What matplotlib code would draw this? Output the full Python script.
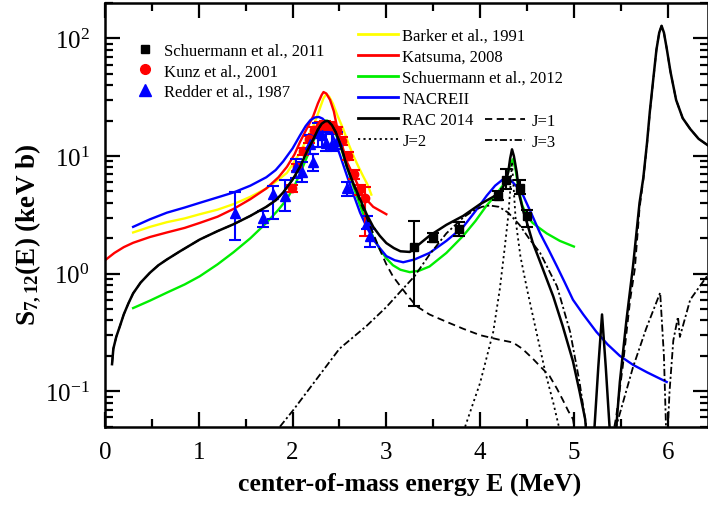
import numpy as np
import matplotlib
matplotlib.use('Agg')
import matplotlib.pyplot as plt
from matplotlib.lines import Line2D
from matplotlib.ticker import LogLocator, MultipleLocator, NullFormatter

plt.rcParams['font.family'] = 'Liberation Serif'
plt.rcParams['mathtext.fontset'] = 'custom'
plt.rcParams['mathtext.rm'] = 'Liberation Serif'
plt.rcParams['mathtext.it'] = 'Liberation Serif:italic'
plt.rcParams['mathtext.bf'] = 'Liberation Serif:bold'

# ---- model curves (E in MeV, S in keV b) ----
barker_E = [0.30, 0.48, 0.66, 0.85, 1.01, 1.20, 1.37, 1.55, 1.72, 1.85, 1.94, 2.02, 2.08, 2.15, 2.22,
            2.28, 2.33, 2.36, 2.39, 2.43, 2.48, 2.54, 2.60, 2.65, 2.70, 2.75, 2.80, 2.84]
barker_S = [2.24, 2.5, 2.74, 2.95, 3.2, 3.5, 3.9, 4.5, 5.3, 6.3, 7.2, 9.0, 10.7, 14.0, 17.9,
            24.0, 31.0, 33.6, 32.0, 28.0, 22.0, 17.0, 12.5, 10.0, 8.2, 6.8, 5.7, 4.7]

katsuma_E = [0.0, 0.10, 0.20, 0.30, 0.48, 0.66, 0.85, 1.01, 1.20, 1.37, 1.55, 1.72, 1.85, 1.94, 2.02,
             2.08, 2.15, 2.22, 2.27, 2.31, 2.33, 2.36, 2.40, 2.44, 2.47, 2.52, 2.58, 2.65, 2.75, 2.86, 3.0]
katsuma_S = [1.3, 1.5, 1.68, 1.83, 2.05, 2.24, 2.45, 2.7, 3.05, 3.55, 4.3, 5.3, 6.6, 8.1, 10.3,
             13.2, 17.0, 21.8, 28.0, 33.0, 35.0, 34.0, 30.0, 24.0, 18.3, 13.0, 8.9, 6.8, 4.6, 3.7, 3.2]

sch12_E = [0.30, 0.48, 0.66, 0.85, 1.01, 1.20, 1.37, 1.55, 1.72, 1.85, 1.94, 2.03, 2.11, 2.19, 2.26,
           2.30, 2.34, 2.37, 2.40, 2.45, 2.50, 2.57, 2.65, 2.72, 2.79, 2.86, 2.93, 3.00, 3.07, 3.15,
           3.25, 3.35, 3.46, 3.64, 3.82, 3.95, 4.07, 4.16, 4.24, 4.28, 4.31, 4.35, 4.38, 4.41, 4.45,
           4.50, 4.56, 4.63, 4.71, 4.85, 5.0]
sch12_S = [0.51, 0.59, 0.69, 0.81, 0.95, 1.2, 1.52, 2.0, 2.7, 3.5, 4.3, 5.8, 8.1, 11.5, 15.9,
           18.5, 20.0, 20.0, 18.8, 16.0, 13.0, 8.5, 5.5, 3.8, 2.7, 2.05, 1.62, 1.35, 1.18, 1.08,
           1.03, 1.06, 1.15, 1.5, 2.1, 2.8, 3.8, 4.6, 5.6, 6.5, 8.0, 9.4, 7.5, 5.2, 3.8,
           3.1, 2.7, 2.45, 2.2, 1.9, 1.7]

nacre_E = [0.30, 0.48, 0.66, 0.85, 1.01, 1.20, 1.37, 1.55, 1.72, 1.82, 1.90, 2.00, 2.08, 2.14, 2.19,
           2.24, 2.28, 2.32, 2.36, 2.40, 2.43, 2.50, 2.58, 2.65, 2.72, 2.79, 2.86, 2.93, 3.00, 3.09,
           3.18, 3.30, 3.46, 3.64, 3.82, 3.95, 4.07, 4.16, 4.24, 4.28, 4.33, 4.40, 4.46, 4.55, 4.64,
           4.73, 4.82, 4.90, 4.99, 5.10, 5.24, 5.36, 5.49, 5.63, 5.78, 5.99]
nacre_S = [2.5, 2.9, 3.3, 3.65, 4.0, 4.45, 4.9, 5.6, 6.6, 7.6, 9.0, 11.6, 15.0, 18.0, 20.2,
           21.3, 21.5, 20.8, 19.2, 16.8, 14.8, 10.5, 6.8, 4.7, 3.3, 2.5, 1.96, 1.65, 1.41, 1.3,
           1.25, 1.32, 1.5, 1.9, 2.5, 3.4, 4.6, 5.6, 6.3, 6.4, 6.2, 5.4, 4.6, 3.2, 2.2,
           1.6, 1.15, 0.85, 0.60, 0.45, 0.32, 0.25, 0.20, 0.168, 0.145, 0.12]

rac_E = [0.075, 0.089, 0.12, 0.16, 0.20, 0.25, 0.30, 0.38, 0.48, 0.57, 0.66, 0.80, 1.01, 1.20, 1.37,
         1.55, 1.72, 1.82, 1.90, 2.00, 2.08, 2.15, 2.22, 2.27, 2.31, 2.35, 2.38, 2.42, 2.46, 2.50,
         2.54, 2.58, 2.65, 2.72, 2.79, 2.86, 2.93, 3.00, 3.08, 3.15, 3.25, 3.35, 3.46, 3.64, 3.82,
         4.00, 4.14, 4.22, 4.27, 4.30, 4.32, 4.34, 4.36, 4.39, 4.42, 4.46, 4.50, 4.56, 4.67, 4.78,
         4.88, 4.99, 5.06, 5.12, 5.17, 5.22, 5.26, 5.30, 5.34, 5.38, 5.42, 5.46, 5.49, 5.56, 5.63,
         5.70, 5.74, 5.78, 5.81, 5.85, 5.88, 5.91, 5.935, 5.96, 5.99, 6.03, 6.09, 6.16, 6.24, 6.33, 6.45]
rac_S = [0.17, 0.23, 0.29, 0.36, 0.45, 0.56, 0.68, 0.84, 1.02, 1.18, 1.32, 1.55, 1.95, 2.3, 2.63,
         3.1, 3.7, 4.2, 4.9, 6.3, 8.1, 10.8, 13.8, 16.8, 18.8, 19.8, 19.8, 18.3, 16.0, 13.2,
         10.5, 8.1, 5.8, 4.3, 3.2, 2.5, 2.1, 1.82, 1.65, 1.55, 1.53, 1.78, 2.1, 2.6, 3.1,
         3.9, 4.5, 5.0, 6.0, 7.3, 9.5, 11.4, 10.0, 7.3, 4.6, 3.4, 2.7, 1.85, 1.09, 0.64,
         0.36, 0.18, 0.10, 0.058, 0.02, 0.05, 0.16, 0.45, 0.16, 0.05, 0.02, 0.06, 0.12, 0.4, 1.15,
         4.0, 6.5, 13.0, 24.0, 48.0, 80.0, 112.0, 128.0, 112.0, 82.0, 52.0, 30.0, 21.0, 17.0, 14.0, 12.0]

j1_E = [0.075, 0.089, 0.12, 0.16, 0.20, 0.25, 0.30, 0.38, 0.48, 0.57, 0.66, 0.80, 1.01, 1.20, 1.37,
        1.55, 1.72, 1.82, 1.90, 2.00, 2.08, 2.15, 2.22, 2.27, 2.31, 2.35, 2.38, 2.42, 2.46, 2.50,
        2.54, 2.58, 2.65, 2.72, 2.79, 2.86, 2.93, 3.00, 3.07, 3.14, 3.22, 3.32, 3.46, 3.64, 3.82,
        4.00, 4.20, 4.35, 4.45, 4.56, 4.65, 4.74, 4.82, 4.88, 4.94, 4.99, 5.05,
        5.38, 5.45, 5.52, 5.60, 5.65, 5.70, 5.74, 5.78, 5.81, 5.85, 5.88, 5.91, 5.935, 5.96, 5.99,
        6.03, 6.09, 6.16, 6.24, 6.33, 6.45]
j1_S = [0.17, 0.23, 0.29, 0.36, 0.45, 0.56, 0.68, 0.84, 1.02, 1.18, 1.32, 1.55, 1.95, 2.3, 2.63,
        3.1, 3.7, 4.2, 4.9, 6.3, 8.1, 10.8, 13.8, 16.8, 18.8, 19.8, 19.8, 18.3, 16.0, 13.2,
        10.5, 8.1, 5.7, 4.1, 3.0, 2.2, 1.6, 1.2, 0.95, 0.80, 0.66, 0.53, 0.45, 0.39, 0.34,
        0.30, 0.275, 0.26, 0.23, 0.19, 0.16, 0.135, 0.105, 0.085, 0.068, 0.058, 0.03,
        0.03, 0.06, 0.16, 0.6, 1.1, 3.6, 6.3, 12.6, 23.5, 47.0, 80.0, 112.0, 128.0, 112.0, 82.0,
        52.0, 30.0, 21.0, 17.0, 14.0, 12.0]

j2_E = [3.84, 4.00, 4.14, 4.21, 4.26, 4.30, 4.32, 4.34, 4.36, 4.38, 4.43, 4.50, 4.60, 4.70, 4.78, 4.84, 4.90]
j2_S = [0.05, 0.118, 0.32, 0.74, 1.6, 3.1, 5.0, 8.9, 5.0, 2.8, 1.4, 0.74, 0.32, 0.14, 0.08, 0.05, 0.03]

j3_E = [1.865, 2.00, 2.25, 2.50, 2.79, 3.00, 3.14, 3.30, 3.46, 3.64, 3.82, 3.92, 4.02, 4.10, 4.20, 4.30,
        4.42, 4.52, 4.64, 4.82, 4.96, 5.06, 5.15, 5.25, 5.40, 5.45, 5.63, 5.77, 5.92, 5.96, 5.99, 6.02,
        6.06, 6.11, 6.13, 6.24, 6.41, 6.45]
j3_S = [0.05, 0.068, 0.125, 0.23, 0.36, 0.52, 0.69, 0.95, 1.45, 2.2, 3.0, 3.4, 3.7, 3.8, 3.7, 3.3,
        2.6, 2.0, 1.5, 0.78, 0.32, 0.12, 0.04, 0.02, 0.02, 0.05, 0.16, 0.34, 0.69, 0.2, 0.03, 0.1,
        0.27, 0.43, 0.29, 0.60, 0.93, 1.0]

# ---- measured data ----
sch11_E = [3.30, 3.50, 3.78, 4.19, 4.28, 4.42, 4.50]
sch11_S = [1.68, 2.0, 2.38, 4.6, 6.3, 5.4, 3.1]
sch11_lo = [0.53, 1.85, 2.1, 4.2, 5.2, 4.8, 2.5]
sch11_hi = [2.8, 2.2, 2.75, 5.0, 7.7, 6.2, 3.5]

kunz_E = [1.99, 2.05, 2.11, 2.17, 2.23, 2.29, 2.35, 2.41, 2.47, 2.53, 2.59, 2.66, 2.72, 2.77]
kunz_S = [5.3, 8.0, 11.0, 13.9, 16.5, 18.0, 18.5, 18.0, 16.5, 13.5, 10.0, 7.0, 5.2, 4.4]
kunz_lo = [4.9, 7.4, 10.2, 12.9, 15.3, 16.7, 17.2, 16.7, 15.3, 12.5, 9.2, 6.4, 4.7, 2.1]
kunz_hi = [5.7, 8.6, 11.8, 14.9, 17.7, 19.3, 19.8, 19.3, 17.7, 14.5, 10.8, 7.6, 5.7, 5.5]

redder_E = [1.39, 1.69, 1.79, 1.92, 2.04, 2.10, 2.19, 2.22, 2.27, 2.31, 2.36, 2.42, 2.47, 2.58, 2.79, 2.83]
redder_S = [3.3, 3.0, 4.8, 4.6, 8.0, 7.3, 12.7, 8.9, 15.8, 15.0, 13.0, 12.7, 13.5, 5.3, 2.7, 2.1]
redder_lo = [1.94, 2.5, 2.9, 3.4, 6.5, 6.0, 10.5, 7.5, 12.0, 12.0, 11.0, 11.0, 11.5, 4.6, 2.4, 1.7]
redder_hi = [4.9, 3.4, 5.6, 6.3, 9.5, 8.9, 15.0, 10.5, 19.0, 18.0, 16.0, 15.5, 16.0, 6.0, 3.1, 2.4]

W, H = 708, 506
fig = plt.figure(figsize=(W / 100, H / 100), dpi=100)
ax = fig.add_axes([105 / W, 1 - 427.7 / H, (W - 105) / W, (427.7 - 4) / H])

lw = 1.7
ax.plot(barker_E, barker_S, color='#ffff00', lw=lw)
ax.plot(katsuma_E, katsuma_S, color='#ff0000', lw=lw)
ax.plot(sch12_E, sch12_S, color='#00ee00', lw=lw)
ax.plot(nacre_E, nacre_S, color='#0000ff', lw=lw)


def bars(E, S, lo, hi, color, marker, ms):
    S = np.array(S)
    err = [S - np.array(lo), np.array(hi) - S]
    ax.errorbar(E, S, yerr=err, fmt=marker, color=color, ms=ms, elinewidth=1.5,
                capsize=4, capthick=1.5, zorder=3)


bars(kunz_E, kunz_S, kunz_lo, kunz_hi, '#ff0000', 'o', 6)
bars(redder_E, redder_S, redder_lo, redder_hi, '#0000ff', '^', 7)
bars(sch11_E, sch11_S, sch11_lo, sch11_hi, 'black', 's', 5.5)

ax.plot(j1_E, j1_S, color='black', lw=1.3, ls=(0, (4, 2.5)), zorder=4)
ax.plot(j2_E, j2_S, color='black', lw=1.3, ls=(0, (1.2, 1.8)), zorder=4)
ax.plot(j3_E, j3_S, color='black', lw=1.3, ls=(0, (4, 1.5, 1.2, 1.5)), zorder=4)
ax.plot(rac_E, rac_S, color='black', lw=1.8, zorder=5)

ax.set_yscale('log')
ax.set_xlim(0, 6.43)
ax.set_ylim(0.05, 200)
ax.xaxis.set_major_locator(MultipleLocator(1))
ax.xaxis.set_minor_locator(MultipleLocator(0.5))
ax.yaxis.set_major_locator(LogLocator(base=10, numticks=10))
ax.yaxis.set_minor_locator(LogLocator(base=10, subs=np.arange(2, 10), numticks=20))
ax.yaxis.set_minor_formatter(NullFormatter())
ax.tick_params(which='both', direction='in', top=True, right=True, width=1.6)
ax.tick_params(which='major', length=11, labelsize=18, pad=10)
ax.tick_params(which='minor', length=5.5)
ax.tick_params(axis='y', which='major', pad=11)
for sp in ax.spines.values():
    sp.set_linewidth(1.8)

ax.set_xlabel('center-of-mass energy E (MeV)', fontsize=18.5, fontweight='bold')
ax.xaxis.set_label_coords(0.506, -0.105)
ax.set_ylabel(r'S$_{\mathbf{7,12}}$(E) (keV b)', fontsize=19.5, fontweight='bold')
ax.yaxis.set_label_coords(-0.103, 0.455)


def axfrac(px, py):
    return ((px - 105) / (W - 105), (427.7 - py) / (427.7 - 4))


leg_kw = dict(frameon=False, borderpad=0, borderaxespad=0, fontsize=12)

h1 = [Line2D([], [], ls='none', marker='s', color='black', ms=6),
      Line2D([], [], ls='none', marker='o', color='#ff0000', ms=7),
      Line2D([], [], ls='none', marker='^', color='#0000ff', ms=8)]
leg1 = ax.legend(h1, ['Schuermann et al., 2011', 'Kunz et al., 2001', 'Redder et al., 1987'],
                 loc='upper left', bbox_to_anchor=axfrac(137, 44), handlelength=1.0,
                 handletextpad=0.6, labelspacing=0.25, **leg_kw)
ax.add_artist(leg1)

h2 = [Line2D([], [], color='#ffff00', lw=2),
      Line2D([], [], color='#ff0000', lw=2),
      Line2D([], [], color='#00ee00', lw=2),
      Line2D([], [], color='#0000ff', lw=2),
      Line2D([], [], color='black', lw=2),
      Line2D([], [], color='black', lw=1.3, ls=(0, (1.2, 1.8)))]
leg2 = ax.legend(h2, ['Barker et al., 1991', 'Katsuma, 2008', 'Schuermann et al., 2012', 'NACREII',
                      'RAC 2014', 'J=2'],
                 loc='upper left', bbox_to_anchor=axfrac(358, 29), handlelength=2.4,
                 handletextpad=0.25, labelspacing=0.3, **leg_kw)
ax.add_artist(leg2)

h3 = [Line2D([], [], color='black', lw=1.3, ls=(0, (4, 2.5))),
      Line2D([], [], color='black', lw=1.3, ls=(0, (4, 1.5, 1.2, 1.5)))]
ax.legend(h3, ['J=1', 'J=3'], loc='upper left', bbox_to_anchor=axfrac(485, 114),
          handlelength=2.4, handletextpad=0.4, labelspacing=0.3, **leg_kw)

fig.savefig('out.png', dpi=100)
